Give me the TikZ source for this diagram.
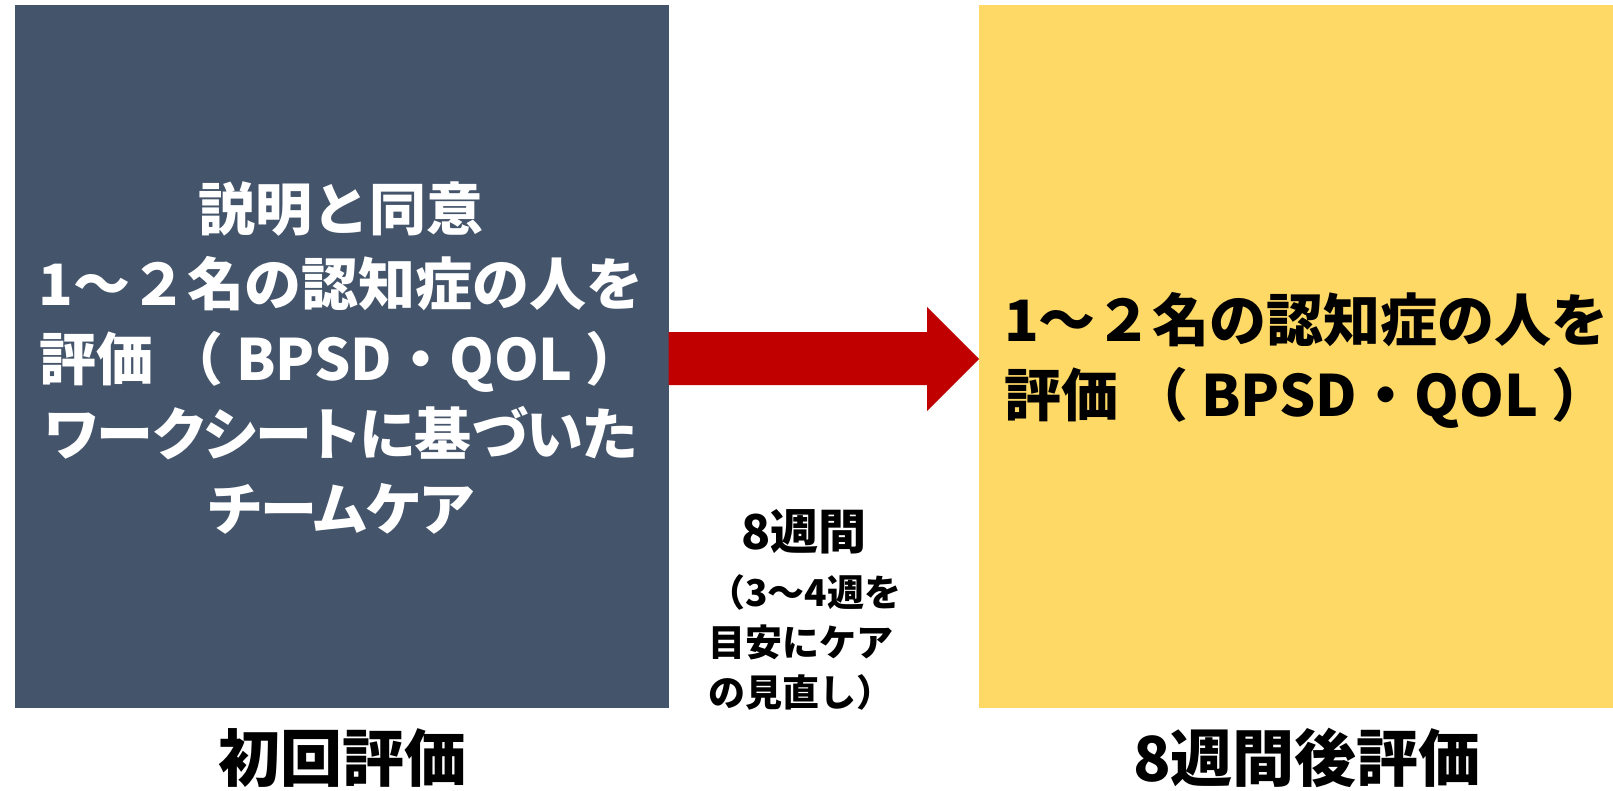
\documentclass[tikz,border=0pt]{standalone}
\usepackage{fontspec}
\setmainfont{Noto Sans CJK JP}
\definecolor{boxblue}{HTML}{44546A}
\definecolor{boxgold}{HTML}{FFD966}
\definecolor{arrowred}{HTML}{C00000}
\newcommand{\propkana}{\addfontfeature{RawFeature=+palt}}
\tikzset{
  panel/.style={minimum width=654pt, minimum height=703pt, inner sep=0pt, outer sep=0pt, draw=none},
  bigtext/.style={font=\fontsize{57}{75}\selectfont\bfseries, inner sep=0pt},
  midtext/.style={font=\fontsize{37}{50}\selectfont\bfseries, inner sep=0pt, text=black},
  labeltext/.style={font=\fontsize{62}{70}\selectfont\bfseries, inner sep=0pt, text=black}
}
\begin{document}
\begin{tikzpicture}[x=1pt,y=-1pt]
\useasboundingbox (0,0) rectangle (1613,790);
\node[panel, fill=boxblue] (lbox) at (341.5,356.5) {};
\node[panel, fill=boxgold, minimum width=634pt] (rbox) at (1296,356.5) {};
\node[bigtext, text=white, align=center] (ltext) at (341,358) {説明と同意\\1～２名の認知症の人を\\評価 （ BPSD・QOL ）\\{\propkana ワークシートに基づいた}\\{\propkana チームケア}};
\node[bigtext, text=black, align=left, anchor=west] (rtext) at (1004,360) {1～２名の認知症の人を\\評価 （ BPSD・QOL ）};
\fill[arrowred] (lbox.east |- 0,332) -- (927,332) -- (927,307) -- (rbox.west |- 0,359) -- (927,411) -- (927,385) -- (lbox.east |- 0,385) -- cycle;
\node[font=\fontsize{48}{56}\selectfont\bfseries, inner sep=0pt] (weeks) at (804,532) {8週間};
\node[midtext, align=left, anchor=west] (note) at (708,642) {（3～4週を\\目安にケア\\の見直し）};
\node[labeltext] (llabel) at (342,758) {初回評価};
\node[labeltext] (rlabel) at (1307,758) {8週間後評価};
\end{tikzpicture}
\end{document}
